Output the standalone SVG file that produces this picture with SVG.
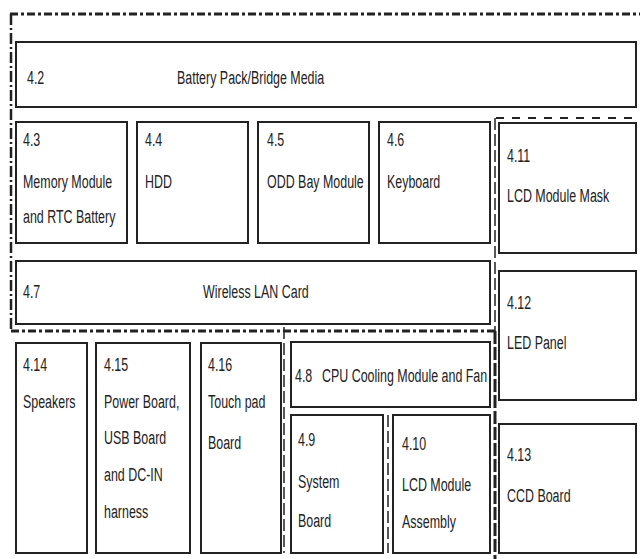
<svg xmlns="http://www.w3.org/2000/svg" width="640" height="559" viewBox="0 0 640 559">
<style>
.box{fill:#fff;stroke:#222;stroke-width:2}
.t{font-family:"Liberation Sans",Arial,sans-serif;font-size:19px;fill:#222}
.dd{fill:none;stroke:#222;stroke-width:3;stroke-dasharray:8 3 3 3}
.vl{fill:none;stroke:#222;stroke-width:2.5;stroke-dasharray:11 3 2 3}
.ds{fill:none;stroke:#222;stroke-width:2;stroke-dasharray:8 8}
.vt{fill:none;stroke:#222;stroke-width:1.5;stroke-dasharray:12 4}
.vk{fill:none;stroke:#222;stroke-width:3;stroke-dasharray:13 3}
</style>
<rect width="640" height="559" fill="#fff"/>
<g id="connectors">
<path class="dd" d="M10 14H640"/>
<path class="vl" d="M11 14V330"/>
<path class="dd" d="M11 331H495"/>
<path class="ds" d="M496 118H640"/>
<path class="vt" d="M495 118V331"/>
<path class="vk" d="M495 331V559"/>
<path class="vt" d="M284 327V553"/>
<path class="vt" d="M388 415V553"/>
</g>
<g id="n42"><rect class="box" x="16" y="42" width="620" height="65"/>
<text class="t" transform="translate(27 84) scale(0.655 1)">4.2</text>
<text class="t" transform="translate(177 84) scale(0.655 1)">Battery Pack/Bridge Media</text></g>
<g id="n43"><rect class="box" x="16" y="122" width="111" height="121"/>
<text class="t" transform="translate(23 146) scale(0.655 1)">4.3</text>
<text class="t" transform="translate(23 188) scale(0.655 1)">Memory Module</text>
<text class="t" transform="translate(23 223) scale(0.655 1)">and RTC Battery</text></g>
<g id="n44"><rect class="box" x="137" y="122" width="111" height="121"/>
<text class="t" transform="translate(145 146) scale(0.655 1)">4.4</text>
<text class="t" transform="translate(145 188) scale(0.655 1)">HDD</text></g>
<g id="n45"><rect class="box" x="258" y="122" width="111" height="121"/>
<text class="t" transform="translate(267 146) scale(0.655 1)">4.5</text>
<text class="t" transform="translate(267 188) scale(0.655 1)">ODD Bay Module</text></g>
<g id="n46"><rect class="box" x="379" y="122" width="111" height="121"/>
<text class="t" transform="translate(387 146) scale(0.655 1)">4.6</text>
<text class="t" transform="translate(387 188) scale(0.655 1)">Keyboard</text></g>
<g id="n411"><rect class="box" x="499" y="123" width="137" height="130"/>
<text class="t" transform="translate(507 162) scale(0.655 1)">4.11</text>
<text class="t" transform="translate(507 202) scale(0.655 1)">LCD Module Mask</text></g>
<g id="n47"><rect class="box" x="16" y="261" width="474" height="63"/>
<text class="t" transform="translate(23 298) scale(0.655 1)">4.7</text>
<text class="t" transform="translate(203 298) scale(0.655 1)">Wireless LAN Card</text></g>
<g id="n412"><rect class="box" x="499" y="271" width="137" height="129"/>
<text class="t" transform="translate(507 309) scale(0.655 1)">4.12</text>
<text class="t" transform="translate(507 349) scale(0.655 1)">LED Panel</text></g>
<g id="n413"><rect class="box" x="499" y="424" width="137" height="129"/>
<text class="t" transform="translate(507 461) scale(0.655 1)">4.13</text>
<text class="t" transform="translate(507 502) scale(0.655 1)">CCD Board</text></g>
<g id="n414"><rect class="box" x="16" y="343" width="71" height="210"/>
<text class="t" transform="translate(23 371) scale(0.655 1)">4.14</text>
<text class="t" transform="translate(23 408) scale(0.655 1)">Speakers</text></g>
<g id="n415"><rect class="box" x="96" y="343" width="94" height="210"/>
<text class="t" transform="translate(104 371) scale(0.655 1)">4.15</text>
<text class="t" transform="translate(104 408) scale(0.655 1)">Power Board,</text>
<text class="t" transform="translate(104 444) scale(0.655 1)">USB Board</text>
<text class="t" transform="translate(104 481) scale(0.655 1)">and DC-IN</text>
<text class="t" transform="translate(104 518) scale(0.655 1)">harness</text></g>
<g id="n416"><rect class="box" x="201" y="343" width="80" height="210"/>
<text class="t" transform="translate(208 371) scale(0.655 1)">4.16</text>
<text class="t" transform="translate(208 408) scale(0.655 1)">Touch pad</text>
<text class="t" transform="translate(208 449) scale(0.655 1)">Board</text></g>
<g id="n48"><rect class="box" x="291" y="342" width="199" height="65"/>
<text class="t" transform="translate(295 382) scale(0.655 1)">4.8</text>
<text class="t" transform="translate(322 382) scale(0.655 1)">CPU Cooling Module and Fan</text></g>
<g id="n49"><rect class="box" x="291" y="415" width="92" height="138"/>
<text class="t" transform="translate(298 446) scale(0.655 1)">4.9</text>
<text class="t" transform="translate(298 488) scale(0.655 1)">System</text>
<text class="t" transform="translate(298 527) scale(0.655 1)">Board</text></g>
<g id="n410"><rect class="box" x="393" y="415" width="97" height="138"/>
<text class="t" transform="translate(402 450) scale(0.655 1)">4.10</text>
<text class="t" transform="translate(402 491) scale(0.655 1)">LCD Module</text>
<text class="t" transform="translate(402 528) scale(0.655 1)">Assembly</text></g>
</svg>
